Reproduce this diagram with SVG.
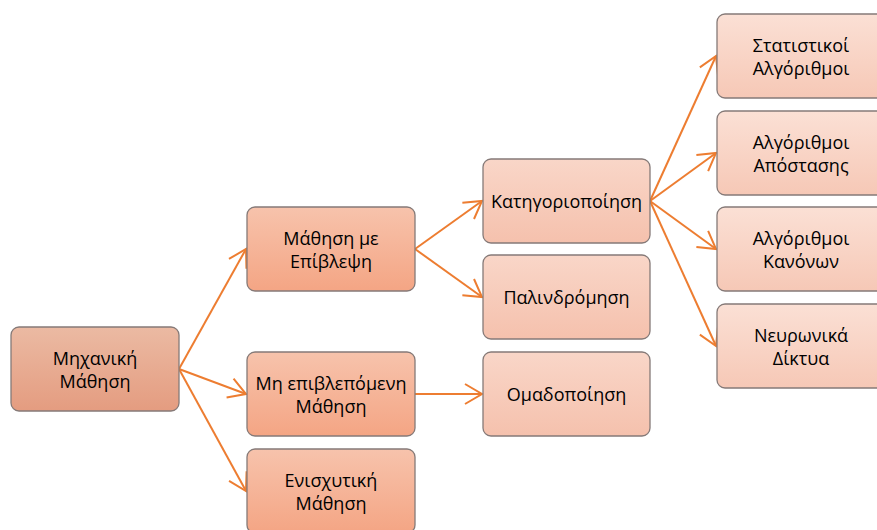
<svg xmlns="http://www.w3.org/2000/svg" width="877" height="530" viewBox="0 0 877 530">
<defs>
<linearGradient id="g0" x1="0" y1="0" x2="0" y2="1"><stop offset="0" stop-color="#ebbaa3"/><stop offset="1" stop-color="#e49c80"/></linearGradient>
<linearGradient id="g1" x1="0" y1="0" x2="0" y2="1"><stop offset="0" stop-color="#f7c3ac"/><stop offset="1" stop-color="#f4a584"/></linearGradient>
<linearGradient id="g2" x1="0" y1="0" x2="0" y2="1"><stop offset="0" stop-color="#f9d6c8"/><stop offset="1" stop-color="#f5c1ad"/></linearGradient>
<linearGradient id="g3" x1="0" y1="0" x2="0" y2="1"><stop offset="0" stop-color="#fbe0d5"/><stop offset="1" stop-color="#f6c8b6"/></linearGradient>
<marker id="arr" markerUnits="userSpaceOnUse" viewBox="-20 -12 22 24" refX="0" refY="0" markerWidth="22" markerHeight="24" orient="auto">
<path d="M-17,-10 L0,0 L-17,10" fill="none" stroke="#ed7d31" stroke-width="2"/>
</marker>
</defs>
<style>
.n rect{stroke:#857a78;stroke-width:1.3}
.n text{font-family:"Open Sans","Noto Sans","DejaVu Sans",sans-serif;font-size:18px;fill:#000;text-anchor:middle}
.c line{stroke:#ed7d31;stroke-width:2;marker-end:url(#arr)}
</style>
<rect width="877" height="530" fill="#fff"/>
<g id="connectors" class="c">
<line x1="179" y1="369" x2="246" y2="249"/>
<line x1="179" y1="369" x2="246" y2="394"/>
<line x1="179" y1="369" x2="246" y2="491"/>
<line x1="415" y1="249" x2="482" y2="201"/>
<line x1="415" y1="249" x2="482" y2="297"/>
<line x1="415" y1="394" x2="482" y2="394"/>
<line x1="650" y1="201" x2="716" y2="56"/>
<line x1="650" y1="201" x2="716" y2="153"/>
<line x1="650" y1="201" x2="716" y2="249"/>
<line x1="650" y1="201" x2="716" y2="346"/>
</g>
<g id="n_root" class="n"><rect x="11" y="327" width="168" height="84" rx="8" fill="url(#g0)"/><text x="95" y="365">Μηχανική</text><text x="95" y="388">Μάθηση</text></g>
<g id="n_sup" class="n"><rect x="247" y="207" width="168" height="84" rx="8" fill="url(#g1)"/><text x="331" y="245">Μάθηση με</text><text x="331" y="268">Επίβλεψη</text></g>
<g id="n_unsup" class="n"><rect x="247" y="352" width="168" height="84" rx="8" fill="url(#g1)"/><text x="331" y="390">Μη επιβλεπόμενη</text><text x="331" y="413">Μάθηση</text></g>
<g id="n_rl" class="n"><rect x="247" y="449" width="168" height="84" rx="8" fill="url(#g1)"/><text x="331" y="487">Ενισχυτική</text><text x="331" y="510">Μάθηση</text></g>
<g id="n_class" class="n"><rect x="483" y="159" width="167" height="84" rx="8" fill="url(#g2)"/><text x="566.5" y="208">Κατηγοριοποίηση</text></g>
<g id="n_reg" class="n"><rect x="483" y="255" width="167" height="84" rx="8" fill="url(#g2)"/><text x="566.5" y="304">Παλινδρόμηση</text></g>
<g id="n_clu" class="n"><rect x="483" y="352" width="167" height="84" rx="8" fill="url(#g2)"/><text x="566.5" y="401">Ομαδοποίηση</text></g>
<g id="n_stat" class="n"><rect x="717" y="14" width="168" height="84" rx="8" fill="url(#g3)"/><text x="801" y="52">Στατιστικοί</text><text x="801" y="75">Αλγόριθμοι</text></g>
<g id="n_dist" class="n"><rect x="717" y="111" width="168" height="84" rx="8" fill="url(#g3)"/><text x="801" y="149">Αλγόριθμοι</text><text x="801" y="172">Απόστασης</text></g>
<g id="n_rule" class="n"><rect x="717" y="207" width="168" height="84" rx="8" fill="url(#g3)"/><text x="801" y="245">Αλγόριθμοι</text><text x="801" y="268">Κανόνων</text></g>
<g id="n_nn" class="n"><rect x="717" y="304" width="168" height="84" rx="8" fill="url(#g3)"/><text x="801" y="342">Νευρωνικά</text><text x="801" y="365">Δίκτυα</text></g>
</svg>
